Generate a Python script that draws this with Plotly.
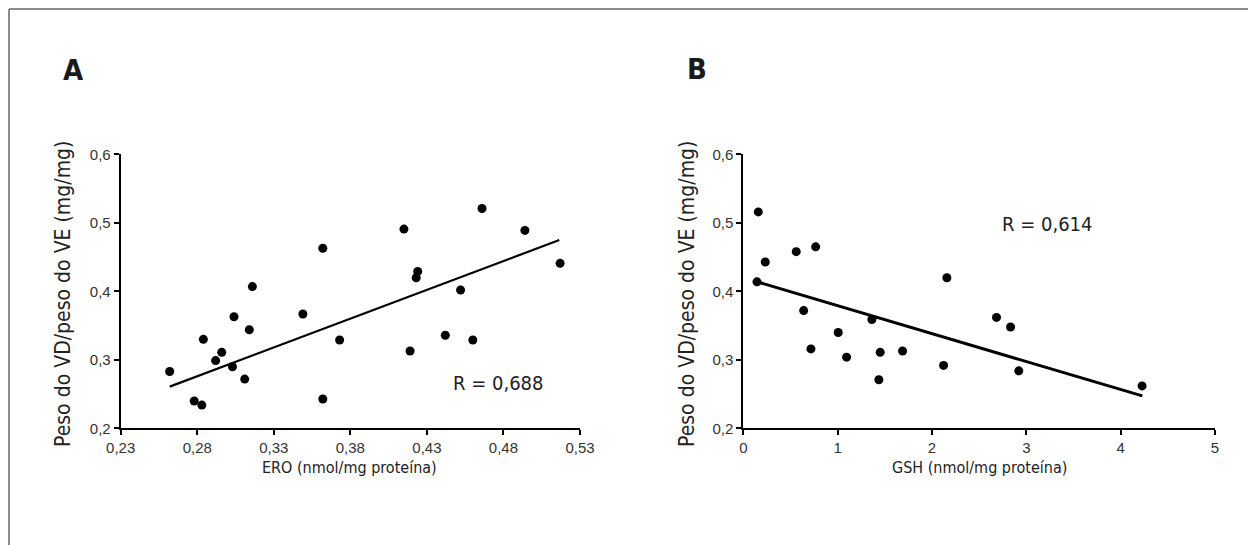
import plotly.graph_objects as go

# ---- Data ----
ero_x = [0.262, 0.278, 0.283, 0.284, 0.292, 0.296, 0.304, 0.303, 0.311, 0.314, 0.316,
         0.349, 0.362, 0.362, 0.373, 0.419, 0.415, 0.466, 0.494, 0.517, 0.424, 0.423,
         0.452, 0.442, 0.460]
ero_y = [0.283, 0.240, 0.234, 0.330, 0.299, 0.311, 0.363, 0.290, 0.272, 0.344, 0.407,
         0.367, 0.243, 0.463, 0.329, 0.313, 0.491, 0.521, 0.489, 0.441, 0.429, 0.420,
         0.402, 0.336, 0.329]
fit_a_x = [0.262, 0.5165]
fit_a_y = [0.261, 0.475]

gsh_x = [0.159, 0.233, 0.561, 0.767, 0.145, 2.158, 0.640, 0.717, 1.006, 1.095, 1.363,
         1.451, 1.437, 1.688, 2.123, 2.684, 2.833, 2.920, 4.227]
gsh_y = [0.516, 0.443, 0.458, 0.465, 0.414, 0.420, 0.372, 0.316, 0.340, 0.304, 0.359,
         0.311, 0.271, 0.313, 0.292, 0.362, 0.348, 0.284, 0.262]
fit_b_x = [0.145, 4.23]
fit_b_y = [0.414, 0.2474]

y_ticks = [0.2, 0.3, 0.4, 0.5, 0.6]
y_ticktext = ["0,2", "0,3", "0,4", "0,5", "0,6"]
xa_ticks = [0.23, 0.28, 0.33, 0.38, 0.43, 0.48, 0.53]
xa_ticktext = ["0,23", "0,28", "0,33", "0,38", "0,43", "0,48", "0,53"]
xb_ticks = [0, 1, 2, 3, 4, 5]
xb_ticktext = ["0", "1", "2", "3", "4", "5"]

y_title = "Peso do VD/peso do VE (mg/mg)"
xa_title = "ERO (nmol/mg proteína)"
xb_title = "GSH (nmol/mg proteína)"
r_a = "R = 0,688"
r_b = "R = 0,614"

# ---- Layout helpers (page pixel -> paper, compensating the 8px page margin) ----
W, H = 1256, 545
OFF = 8
def px(x):
    return (x - OFF) / W
def py(y):
    return 1 - (y - OFF) / H

NARROW = "Liberation Sans Narrow, Arial Narrow, DejaVu Sans Condensed, sans-serif"
TICKFONT = dict(family="Liberation Sans, Arial, sans-serif", size=15, color="#333333")

fig = go.Figure()

fig.add_trace(go.Scatter(x=ero_x, y=ero_y, mode="markers", xaxis="x", yaxis="y",
                         marker=dict(color="black", size=9), cliponaxis=False, showlegend=False))
fig.add_trace(go.Scatter(x=fit_a_x, y=fit_a_y, mode="lines", xaxis="x", yaxis="y",
                         line=dict(color="black", width=2.2), showlegend=False))
fig.add_trace(go.Scatter(x=gsh_x, y=gsh_y, mode="markers", xaxis="x2", yaxis="y2",
                         marker=dict(color="black", size=9), cliponaxis=False, showlegend=False))
fig.add_trace(go.Scatter(x=fit_b_x, y=fit_b_y, mode="lines", xaxis="x2", yaxis="y2",
                         line=dict(color="black", width=3), showlegend=False))

ydom = [py(428.4), py(154.4)]
axis_common = dict(showgrid=False, zeroline=False, showline=True, linecolor="black",
                   linewidth=2, ticks="outside", ticklen=5, tickwidth=2, tickcolor="black",
                   tickfont=TICKFONT, tickmode="array", automargin=False)

fig.update_layout(
    width=W, height=H,
    margin=dict(l=0, r=0, t=0, b=0, pad=0, autoexpand=False),
    paper_bgcolor="white", plot_bgcolor="white",
    xaxis=dict(domain=[px(120.7), px(580)], range=[0.23, 0.53], anchor="y",
               tickvals=xa_ticks, ticktext=xa_ticktext, **axis_common),
    yaxis=dict(domain=ydom, range=[0.2, 0.6], anchor="x",
               tickvals=y_ticks, ticktext=y_ticktext, **axis_common),
    xaxis2=dict(domain=[px(743.3), px(1215)], range=[0, 5], anchor="y2",
                tickvals=xb_ticks, ticktext=xb_ticktext, **axis_common),
    yaxis2=dict(domain=ydom, range=[0.2, 0.6], anchor="x2",
                tickvals=y_ticks, ticktext=y_ticktext, **axis_common),
)

ann = []
def add_text(text, x, y, size, bold=False, angle=0, family=NARROW, color="#222222"):
    ann.append(dict(text=("<b>%s</b>" % text) if bold else text, x=px(x), y=py(y),
                    xref="paper", yref="paper", showarrow=False, textangle=angle,
                    xanchor="center", yanchor="middle",
                    font=dict(family=family, size=size, color=color)))

add_text("A", 73, 70, 29, bold=True, color="#1a1a1a")
add_text("B", 697, 69, 29, bold=True, color="#1a1a1a")
add_text(y_title, 63, 294, 21, angle=-90)
add_text(y_title, 687, 294, 21, angle=-90)
add_text(xa_title, 349, 467, 16)
add_text(xb_title, 979, 467, 16)
add_text(r_a, 498, 383, 20)
add_text(r_b, 1047, 224, 20)
fig.update_layout(annotations=ann)

# outer frame (top and left edges visible)
fig.add_shape(type="line", xref="paper", yref="paper", x0=px(9), x1=1.0, y0=py(9), y1=py(9),
              line=dict(color="#8a8a8a", width=2))
fig.add_shape(type="line", xref="paper", yref="paper", x0=px(9), x1=px(9), y0=py(9), y1=0,
              line=dict(color="#8a8a8a", width=2))

fig.write_html("out.html")
